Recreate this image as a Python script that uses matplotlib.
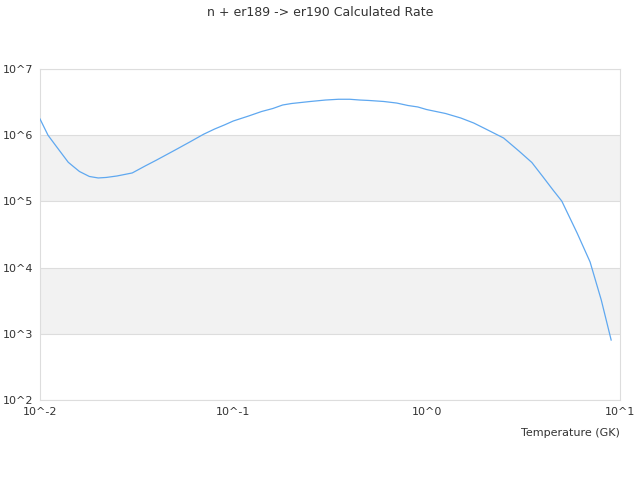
import numpy as np
import matplotlib
matplotlib.use("Agg")
import matplotlib.pyplot as plt

# temperature (GK) and calculated rate
temps = [0.01, 0.011, 0.012, 0.013, 0.014, 0.015, 0.016, 0.018, 0.02, 0.022,
         0.025, 0.03, 0.035, 0.04, 0.05, 0.06, 0.07, 0.08, 0.09, 0.1,
         0.12, 0.14, 0.16, 0.18, 0.2, 0.25, 0.3, 0.35, 0.4, 0.45,
         0.5, 0.6, 0.7, 0.8, 0.9, 1.0, 1.25, 1.5, 1.75, 2.0,
         2.5, 3.0, 3.5, 4.0, 4.5, 5.0, 6.0, 7.0, 8.0, 9.0]
rates = [1.76e6, 1.0e6, 7.1e5, 5.2e5, 3.9e5, 3.3e5, 2.83e5, 2.38e5, 2.26e5, 2.3e5,
         2.42e5, 2.69e5, 3.43e5, 4.2e5, 5.97e5, 8.0e5, 1.03e6, 1.24e6, 1.43e6, 1.64e6,
         1.95e6, 2.28e6, 2.53e6, 2.86e6, 3.01e6, 3.23e6, 3.40e6, 3.49e6, 3.49e6, 3.40e6,
         3.35e6, 3.23e6, 3.06e6, 2.81e6, 2.67e6, 2.44e6, 2.13e6, 1.82e6, 1.53e6, 1.26e6,
         9.07e5, 5.77e5, 3.87e5, 2.34e5, 1.49e5, 1.01e5, 3.33e4, 1.22e4, 3.24e3, 8.05e2]

xticks = [1e-2, 1e-1, 1e0, 1e1]
xlabels = ["10^-2", "10^-1", "10^0", "10^1"]
yticks = [1e2, 1e3, 1e4, 1e5, 1e6, 1e7]
ylabels = ["10^2", "10^3", "10^4", "10^5", "10^6", "10^7"]
bands = [(1e3, 1e4), (1e5, 1e6)]

fig = plt.figure(figsize=(6.4, 4.8), dpi=100)
ax = fig.add_axes([40/640, 80/480, 580/640, 331/480])

for lo, hi in bands:
    ax.axhspan(lo, hi, color="#f2f2f2", zorder=0, lw=0)
for y in yticks:
    ax.axhline(y, color="#dddddd", lw=0.8, zorder=1)

ax.plot(temps, rates, color="#5fa8f0", lw=0.9, zorder=3)

ax.set_xscale("log")
ax.set_yscale("log")
ax.set_xlim(1e-2, 1e1)
ax.set_ylim(1e2, 1e7)
ax.set_xticks(xticks)
ax.set_xticklabels(xlabels)
ax.set_yticks(yticks)
ax.set_yticklabels(ylabels)
ax.minorticks_off()
ax.tick_params(length=0, labelsize=8, labelcolor="#333333", pad=5)
ax.tick_params(axis="y", pad=5)
for s in ax.spines.values():
    s.set_color("#dddddd")
    s.set_linewidth(0.8)

ax.set_xlabel("Temperature (GK)", fontsize=8, color="#333333", loc="right", labelpad=8)
fig.text(0.5, 1 - 12/480, "n + er189 -> er190 Calculated Rate", ha="center", va="center",
         fontsize=9, color="#333333")

fig.savefig("out.png", dpi=100)
